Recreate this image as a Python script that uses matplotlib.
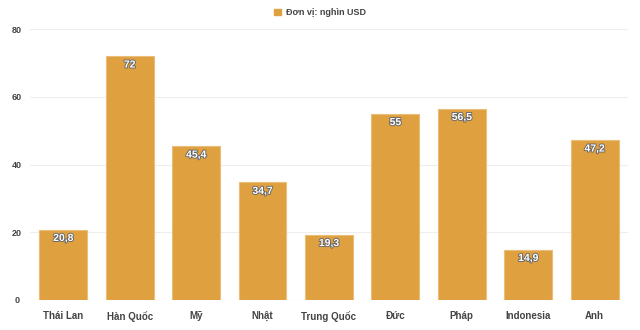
import matplotlib
matplotlib.use("Agg")
import matplotlib.pyplot as plt
import matplotlib.patheffects as pe
from matplotlib.patches import Patch

categories = ["Thái Lan", "Hàn Quốc", "Mỹ", "Nhật", "Trung Quốc", "Đức", "Pháp", "Indonesia", "Anh"]
values = [20.8, 72, 45.4, 34.7, 19.3, 55, 56.5, 14.9, 47.2]
value_labels = ["20,8", "72", "45,4", "34,7", "19,3", "55", "56,5", "14,9", "47,2"]
yticks = [0, 20, 40, 60, 80]
series_name = "Đơn vị: nghìn USD"

plt.rcParams['font.family'] = ['Liberation Sans', 'DejaVu Sans']

fig = plt.figure(figsize=(6.4, 3.3), dpi=100)
ax = fig.add_axes([0.047, 0.091, 0.934, 0.821])

color = "#DFA040"
x = range(len(categories))
bars = ax.bar(x, values, width=0.72, color=color, edgecolor="#EBBE78", linewidth=0.8, zorder=2)

for xi, v, lab in zip(x, values, value_labels):
    ax.annotate(lab, (xi, v), xytext=(0, -2.5), textcoords="offset points",
                ha="center", va="top", color="white", fontsize=7.5, fontweight="bold",
                path_effects=[pe.withStroke(linewidth=1.3, foreground="#666666")], zorder=3)

ax.set_xlim(-0.5, len(categories) - 0.5)
ax.set_ylim(0, 80)
ax.set_yticks(yticks)
ax.set_yticklabels([str(t) for t in yticks], fontsize=6.5, color="#444444", fontweight="bold")
ax.set_xticks(list(x))
ax.set_xticklabels(categories, fontsize=7, fontweight="bold", color="#444444")
ax.tick_params(axis="x", length=0, pad=8)
ax.tick_params(axis="y", length=0, pad=9.4)
for lbl in ax.get_yticklabels():
    lbl.set_horizontalalignment("center")
ax.grid(axis="y", color="#EEEEEE", linewidth=0.8, zorder=0)
for s in ax.spines.values():
    s.set_visible(False)
ax.axhline(0, color="#E6E6E6", linewidth=0.8, zorder=1)

fig.legend(handles=[Patch(facecolor=color, edgecolor=color)], labels=[series_name],
           loc="upper center", bbox_to_anchor=(0.5, 1.0), frameon=False,
           handlelength=0.8, handleheight=0.8, handletextpad=0.6,
           prop={"size": 6.5, "weight": "bold"})
for t in fig.legends[0].get_texts():
    t.set_color("#444444")

fig.savefig("out.png", dpi=100)
